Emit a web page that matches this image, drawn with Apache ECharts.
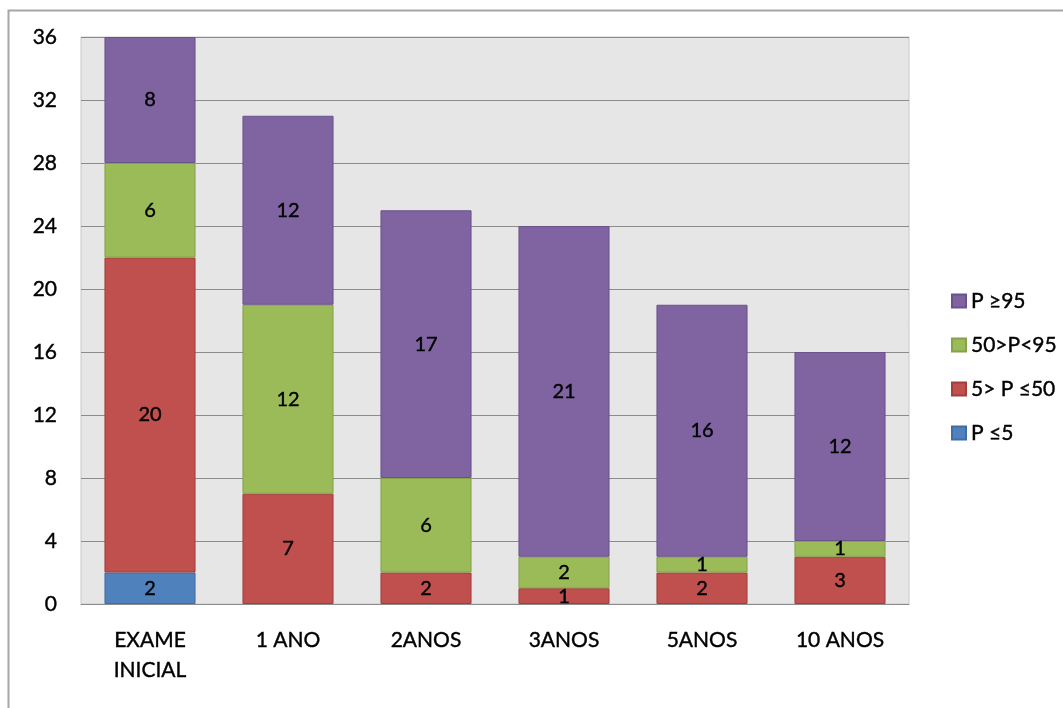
<!DOCTYPE html>
<html><head><meta charset="utf-8">
<script src="https://cdn.jsdelivr.net/npm/echarts@6/dist/echarts.min.js"></script>
<style>html,body{margin:0;padding:0;background:#fff}#c{width:1063px;height:708px}</style>
</head><body><div id="c"></div>
<script>
const categories = ['EXAME\nINICIAL', '1 ANO', '2ANOS', '3ANOS', '5ANOS', '10 ANOS'];
const seriesNames = ['P ≤5', '5> P ≤50', '50>P<95', 'P ≥95'];
const pLe5 = [2, 0, 0, 0, 0, 0];
const p5to50 = [20, 7, 2, 1, 2, 3];
const p50to95 = [6, 12, 6, 2, 1, 1];
const pGe95 = [8, 12, 17, 21, 16, 12];
const colors = ['#4F81BD', '#C0504D', '#9BBB59', '#8064A2'];
const borders = ['#3f6ea3', '#a23f3c', '#84a248', '#6a528a'];
const values = [pLe5, p5to50, p50to95, pGe95];
const font = 'Lato, "Open Sans", sans-serif';
const txt = (size, extra) => Object.assign({fontFamily: font, fontSize: size, color: '#000', textBorderColor: '#000', textBorderWidth: 0.4}, extra || {});

const chart = echarts.init(document.getElementById('c'));
chart.setOption({
  animation: false,
  graphic: [{type: 'rect', shape: {x: 8.5, y: 10.5, width: 1200, height: 800}, style: {fill: 'none', stroke: '#a6a6a6', lineWidth: 2}, z: -10}],
  grid: {left: 81, right: 154, top: 37, bottom: 104, show: true, backgroundColor: '#e6e6e6', borderColor: '#c8c8c8', borderWidth: 1},
  legend: {
    orient: 'vertical', left: 946, top: 284,
    data: seriesNames.slice().reverse(),
    itemWidth: 14, itemHeight: 13, itemGap: 20,
    textStyle: txt(21, {lineHeight: 24}),
    icon: 'rect'
  },
  xAxis: {
    type: 'category', data: categories,
    axisLine: {show: true, lineStyle: {color: '#8c8c8c'}},
    axisTick: {show: false},
    axisLabel: txt(21, {margin: 21, lineHeight: 30})
  },
  yAxis: {
    type: 'value', min: 0, max: 36, interval: 4,
    axisLine: {show: false}, axisTick: {show: false},
    splitLine: {lineStyle: {color: '#8c8c8c', width: 1}},
    axisLabel: txt(21, {margin: 24})
  },
  series: seriesNames.map((n, i) => ({
    name: n, type: 'bar', stack: 'all', barWidth: '66%',
    data: values[i].map(v => v === 0 ? null : v),
    itemStyle: {color: colors[i], borderColor: borders[i], borderWidth: 1},
    label: txt(20, {show: true, position: 'inside'})
  }))
});
</script></body></html>
